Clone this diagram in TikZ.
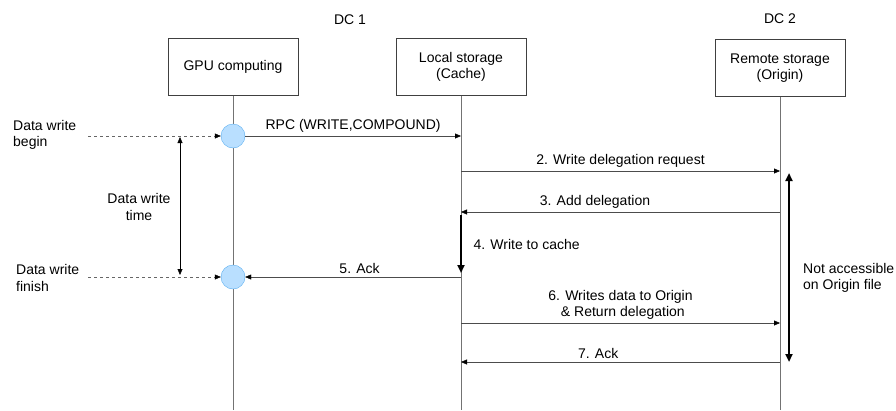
\documentclass[tikz,border=0pt]{standalone}
\usepackage{fontspec}
\setmainfont{Liberation Sans}
\usepackage{tikz}
\usetikzlibrary{arrows.meta, positioning, calc}
\definecolor{dotfill}{HTML}{B9DFFF}
\definecolor{dotdraw}{HTML}{5AAEF0}
\tikzset{
	actor/.style={rectangle, draw=black!75, align=center, minimum width=130pt, minimum height=57pt},
	event/.style={circle, draw=dotdraw, fill=dotfill, minimum size=24pt, inner sep=0pt},
	lifeline/.style={draw=black!55},
	msg/.style={draw=black!70, -{Triangle[length=6pt, width=5pt, black]}},
	dashmsg/.style={draw=black!60, dashed, -{Triangle[length=6pt, width=5pt, black]}},
	timebar/.style={draw=black, {Triangle[length=6pt, width=5pt]}-{Triangle[length=6pt, width=5pt]}},
	heavy/.style={draw=black, line width=2.4pt, -{Triangle[length=8pt, width=7pt]}},
	heavyboth/.style={draw=black, line width=2.4pt, {Triangle[length=8pt, width=7pt]}-{Triangle[length=8pt, width=7pt]}},
	note/.style={align=left, inner sep=0pt}
}

\begin{document}
\begin{tikzpicture}[x=1pt, y=-1pt, font=\fontsize{14}{16.5}\selectfont]
    \useasboundingbox (0,0) rectangle (896,410);
    % Nodes
    \node[actor] (gpu) at (233,67) {GPU computing};
    \node[actor] (cache) at (461,67) {Local storage\\(Cache)};
    \node[actor] (origin) at (780,68) {Remote storage\\(Origin)};
    \node (dc1) at (350,20) {DC 1};
    \node[above=12pt of origin.north] (dc2) {DC 2};
    % Lifelines
    \coordinate (gpuend) at (233,410);
    \coordinate (cacheend) at (461,410);
    \coordinate (originend) at (780,410);
    \draw[lifeline] (gpu) -- (gpuend);
    \draw[lifeline] (cache) -- (cacheend);
    \draw[lifeline] (origin) -- (originend);
    \node[event] (begin) at (233,136) {};
    \node[event] (finish) at (233,277) {};
    % Message points
    \coordinate (c1) at (461,136);
    \coordinate (c2) at (461,171); \coordinate (o2) at (780,171);
    \coordinate (c3) at (461,212); \coordinate (o3) at (780,212);
    \coordinate (c4) at (461,215); \coordinate (c4e) at (461,273);
    \coordinate (c5) at (461,277);
    \coordinate (c6) at (461,323); \coordinate (o6) at (780,323);
    \coordinate (c7) at (461,362); \coordinate (o7) at (780,362);
    \coordinate (lock) at (789,173); \coordinate (locke) at (789,362);
    % Arrows
    \draw[msg] (begin) -- (c1) node[midway,above] {RPC (WRITE,COMPOUND)};
    \draw[msg] (c2) -- (o2) node[midway,above] {2. Write delegation request};
    \draw[msg] (o3) -- (c3) node[pos=0.58,above] {3. Add delegation};
    \draw[heavy] (c4) -- (c4e) node[midway,right=8pt] {4. Write to cache};
    \draw[msg] (c5) -- (finish) node[pos=0.47,above] {5. Ack};
    \draw[msg] (c6) -- (o6) node[midway,above,align=center] {6. Writes data to Origin\\\,\,\& Return delegation};
    \draw[msg] (o7) -- (c7) node[pos=0.57,above] {7. Ack};
    \draw[heavyboth] (lock) -- (locke);
    % Labels
    \node[note, anchor=west] (lbegin) at (13,135) {Data write\\begin};
    \node[note, anchor=west] (lfinish) at (16,278) {Data write\\finish};
    \coordinate (dbegin) at (88,136);
    \coordinate (dfinish) at (88,277);
    \draw[dashmsg] (dbegin) -- (begin);
    \draw[dashmsg] (dfinish) -- (finish);
    \coordinate (t1) at (180,137); \coordinate (t2) at (180,275);
    \draw[timebar] (t1) -- (t2);
    \node[note, align=center] (ltime) at (139,207) {Data write\\time};
    \node[note, anchor=west] (lnoacc) at (803,278) {Not accessible\\on Origin file};
\end{tikzpicture}
\end{document}
